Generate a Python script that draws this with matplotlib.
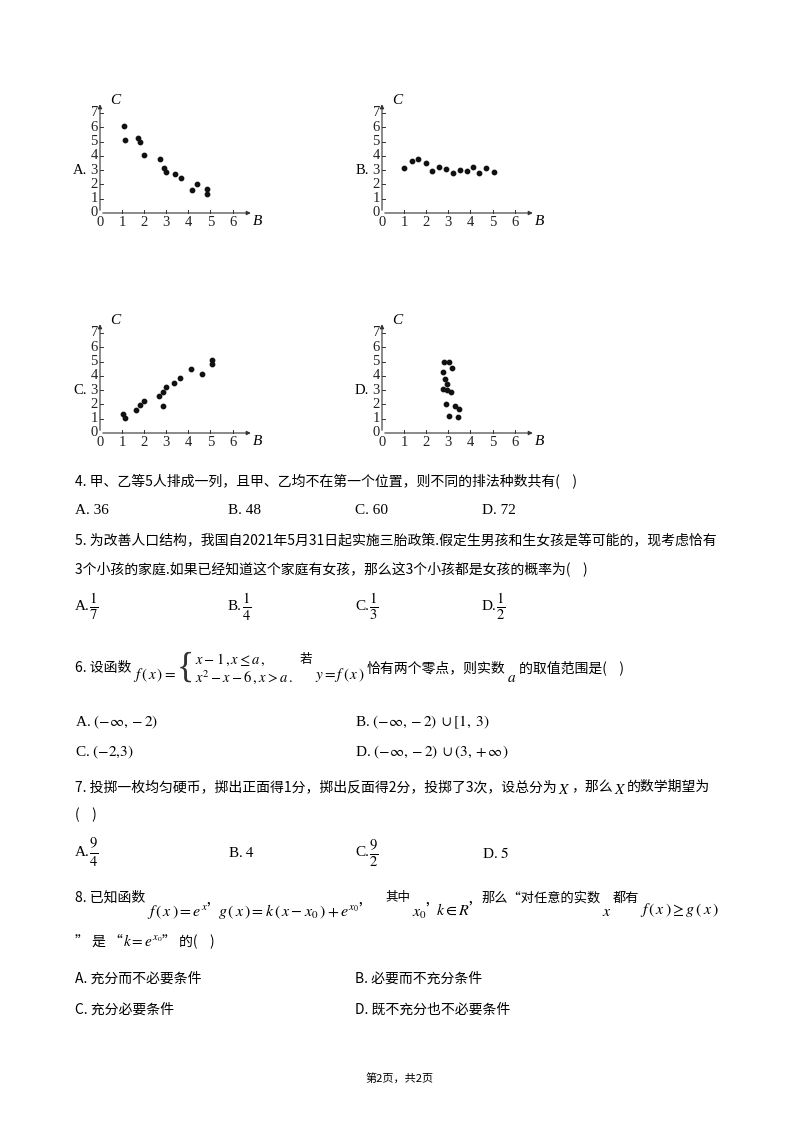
import matplotlib
matplotlib.use("Agg")
import matplotlib.pyplot as plt

plt.rcParams['font.family'] = ['Noto Sans CJK SC', 'DejaVu Sans']
plt.rcParams['mathtext.fontset'] = 'stix'

# scatter data (B, C)
a_b = [1.1, 1.15, 1.7, 1.8, 2.0, 2.7, 2.9, 3.0, 3.4, 3.65, 4.15, 4.4, 4.85, 4.85]
a_c = [6.05, 5.1, 5.25, 4.95, 4.05, 3.75, 3.15, 2.85, 2.75, 2.45, 1.6, 2.0, 1.65, 1.3]
b_b = [1.0, 1.35, 1.65, 2.0, 2.25, 2.6, 2.9, 3.2, 3.55, 3.85, 4.1, 4.4, 4.7, 5.05]
b_c = [3.15, 3.65, 3.75, 3.5, 2.95, 3.2, 3.05, 2.8, 3.0, 2.95, 3.25, 2.8, 3.15, 2.9]
c_b = [1.05, 1.15, 1.65, 1.8, 2.0, 2.65, 2.85, 2.85, 3.0, 3.35, 3.6, 4.1, 4.6, 5.05, 5.05]
c_c = [1.3, 1.05, 1.6, 1.95, 2.25, 2.6, 2.85, 1.9, 3.25, 3.5, 3.85, 4.45, 4.15, 5.1, 4.8]
d_b = [2.8, 3.05, 2.75, 3.15, 2.85, 2.95, 2.75, 2.95, 3.1, 2.9, 3.3, 3.5, 3.05, 3.45]
d_c = [4.95, 4.95, 4.25, 4.55, 3.75, 3.45, 3.05, 3.0, 2.85, 2.05, 1.9, 1.65, 1.2, 1.1]
x_ticks = [0, 1, 2, 3, 4, 5, 6]
y_ticks = [0, 1, 2, 3, 4, 5, 6, 7]

W, H = 800, 1132
fig = plt.figure(figsize=(8, 11.32), dpi=100)
fig.patch.set_facecolor('white')
renderer = fig.canvas.get_renderer()

SERIF = ['Liberation Serif', 'Noto Sans CJK SC']


def T(x, y, s, size=10, **kw):
    kw.setdefault('va', 'center')
    return fig.text(x / W, 1 - y / H, s, fontsize=size, **kw)


def row(x, y, parts):
    # parts: (text, size, dy, gap, kwargs) placed left to right
    for s, size, dy, gap, kw in parts:
        t = T(x, y + dy, s, size, **kw)
        x += t.get_window_extent(renderer).width + gap
    return x


def scatter_panel(ox, oy, bs, cs, label):
    ux, uy = 22.1, 14.3
    x0, x1, y0, y1 = -2.0, 7.8, -0.9, 8.2
    left = ox + x0 * ux
    bottom = oy - y0 * uy
    ax = fig.add_axes([left / W, 1 - bottom / H, (x1 - x0) * ux / W, (y1 - y0) * uy / H])
    ax.set_xlim(x0, x1)
    ax.set_ylim(y0, y1)
    ax.axis('off')
    ax.annotate('', xy=(6.95, 0), xytext=(0, 0),
                arrowprops=dict(arrowstyle='-|>', lw=0.8, color='#333', mutation_scale=6))
    ax.annotate('', xy=(0, 7.8), xytext=(0, 0),
                arrowprops=dict(arrowstyle='-|>', lw=0.8, color='#333', mutation_scale=6))
    for t in x_ticks[1:]:
        ax.plot([t, t], [0, 0.18], color='#333', lw=0.7)
    for t in y_ticks[1:]:
        ax.plot([0, 0.15], [t, t], color='#333', lw=0.7)
    for t in x_ticks:
        ax.text(t, -0.2, str(t), ha='center', va='top', fontsize=10.5, family=SERIF, color='#222')
    for t in y_ticks:
        ax.text(-0.1, t, str(t), ha='right', va='center', fontsize=10.5, family=SERIF, color='#222')
    ax.text(0.45, 7.9, 'C', style='italic', fontsize=11, family=SERIF, va='center')
    ax.text(7.15, -0.6, 'B', style='italic', fontsize=11, family=SERIF, va='center', ha='center')
    ax.text(-0.6, 3.0, label, fontsize=10.5, family=SERIF, va='center', ha='right')
    ax.scatter(bs, cs, s=10, color='#111', zorder=3)


scatter_panel(100, 213, a_b, a_c, 'A.')
scatter_panel(382, 213, b_b, b_c, 'B.')
scatter_panel(100, 433, c_b, c_c, 'C.')
scatter_panel(382, 433, d_b, d_c, 'D.')

L = 75
# Q4
T(L, 481, '4. 甲、乙等5人排成一列，且甲、乙均不在第一个位置，则不同的排法种数共有(    )')
for x, s in zip([L, 228, 355, 482], ['A. 36', 'B. 48', 'C. 60', 'D. 72']):
    T(x, 511, s, 11, family=SERIF)
# Q5
T(L, 540, '5. 为改善人口结构，我国自2021年5月31日起实施三胎政策.假定生男孩和生女孩是等可能的，现考虑恰有')
T(L, 570, '3个小孩的家庭.如果已经知道这个家庭有女孩，那么这3个小孩都是女孩的概率为(    )')
for x, l, s in zip([L, 228, 355, 482], ['A.', 'B.', 'C.', 'D.'], ['7', '4', '3', '2']):
    T(x, 607, l, 11, family=SERIF)
    T(x + 14, 607, r'$\frac{1}{%s}$' % s, 15)
# Q6
x = row(L, 668, [('6. 设函数', 10, 0, 2, {}),
                 (r'$f\,(\,x\,)=$', 11, 7, 0, {})])
T(x, 668, '{', 26, family=SERIF, color='#333')
row(x + 19, 660, [(r'$x-1\,,x\leq a\,,$', 10.5, 0, 0, {})])
xe = row(x + 19, 677, [(r'$x^2-x-6\,,x>a\,.$', 10.5, 0, 6, {})])
row(xe, 668, [('若', 9, -8, 3, {}),
              (r'$y=f\,(\,x\,)$', 11, 7, 2, {}),
              ('恰有两个零点，则实数', 10, 0, 2, {}),
              (r'$a$', 11, 9, 2, {}),
              ('的取值范围是(    )', 10, 0, 0, {})])
T(L, 722, r'A. $(-\infty,-2)$', 11, family=SERIF)
T(355, 722, r'B. $(-\infty,-2)\ \cup[1,\ 3)$', 11, family=SERIF)
T(L, 752, r'C. $(-2{,}3)$', 11, family=SERIF)
T(355, 752, r'D. $(-\infty,-2)\ \cup(3,+\infty)$', 11, family=SERIF)
# Q7
row(L, 787, [('7. 投掷一枚均匀硬币，掷出正面得1分，掷出反面得2分，投掷了3次，设总分为', 10, 0, 1, {}),
             (r'$X$', 11, 2, 1, {}),
             ('，那么', 10, 0, 1, {}),
             (r'$X$', 11, 2, 1, {}),
             ('的数学期望为', 10, 0, 0, {})])
T(L, 815, '(    )')
T(L, 853, 'A.', 11, family=SERIF)
T(L + 14, 853, r'$\frac{9}{4}$', 15)
T(228, 853, r'B. $4$', 11, family=SERIF)
T(355, 853, 'C.', 11, family=SERIF)
T(369, 853, r'$\frac{9}{2}$', 15)
T(482, 853, r'D. $5$', 11, family=SERIF)
# Q8
row(L, 898, [('8. 已知函数', 10, 0, 2, {}),
             (r"$f\,(\,x\,)=e^{x}$’", 11.5, 12, 6, {}),
             (r'$g\,(\,x\,)=k\,(\,x-x_0\,)+e^{x_0}$’', 11.5, 12, 22, {}),
             ('其中', 9, 0, 2, {}),
             (r'$x_0$’', 11.5, 12, 5, {}),
             (r'$k\in R$’', 11.5, 12, 8, {}),
             ('那么“对任意的实数', 9.5, 0, 1, {}),
             (r'$x$', 11.5, 14, 1, {}),
             ('都有', 9.5, 0, 1, {}),
             (r'$f\,(\,x\,)\geq g\,(\,x\,)$', 11.5, 12, 0, {})])
row(L, 942, [('” 是 “', 10, 0, 0, {}),
             (r'$k=e^{x_0}$', 11, 0, 0, {}),
             ('” 的(    )', 10, 0, 0, {})])
T(L, 979, 'A. 充分而不必要条件')
T(355, 979, 'B. 必要而不充分条件')
T(L, 1010, 'C. 充分必要条件')
T(355, 1010, 'D. 既不充分也不必要条件')

T(400, 1078, '第2页，共2页', 8, ha='center')

fig.savefig('out.png', dpi=100, facecolor='white')
